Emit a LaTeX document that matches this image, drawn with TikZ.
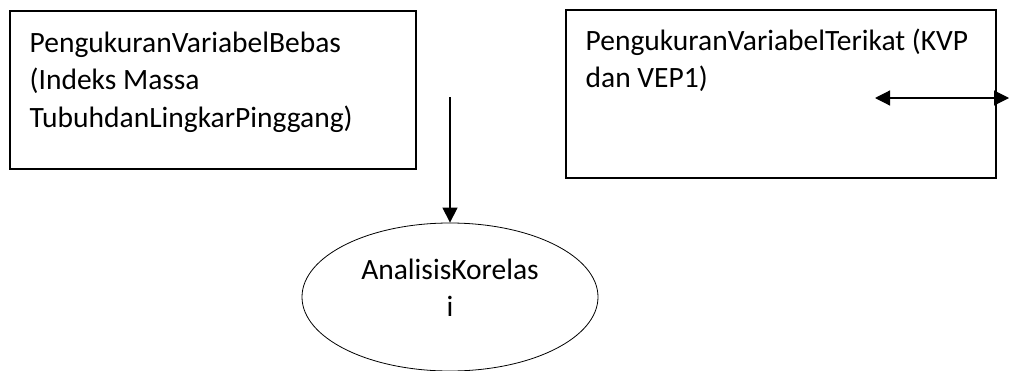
\documentclass[tikz,border=0pt]{standalone}
\usepackage{fontspec}
\setmainfont{Carlito}
\usetikzlibrary{arrows.meta,shapes.geometric}

\tikzset{
	kotak/.style={draw, rectangle, line width=1.6pt, inner sep=0pt},
	isi/.style={anchor=north west, inner sep=0pt, align=left, font=\fontsize{29.5}{37.5}\selectfont},
	bulat/.style={draw, ellipse, line width=0.8pt, inner sep=0pt},
	panah/.style={line width=1.2pt, -{Triangle[length=15pt,width=15pt]}},
	panahdua/.style={line width=1.2pt, {Triangle[length=15pt,width=15pt]}-{Triangle[length=15pt,width=15pt]}}
}

\begin{document}
\begin{tikzpicture}[x=1pt,y=-1pt]
			%%%%% START %%%%%
			\useasboundingbox (0,0) rectangle (1009,370);
			
			\node[kotak, minimum width=406, minimum height=158] (bebas) at (213,90) {};
			\node[isi] (teksbebas) at (29.5,31.5) {PengukuranVariabelBebas\\(Indeks Massa\\TubuhdanLingkarPinggang)};
			
			\node[kotak, minimum width=430, minimum height=168] (terikat) at (781,94) {};
			\node[isi] (teksterikat) at (585.5,28.5) {PengukuranVariabelTerikat (KVP\\dan VEP1)};
			
			\node[bulat, minimum width=296, minimum height=148] (korelasi) at (450,297) {};
			\node[align=center, inner sep=0pt, font=\fontsize{29.5}{37.5}\selectfont] (tekskorelasi) at (450,288) {AnalisisKorelas\\i};
			
			\coordinate (mulai) at (450,97);
			\draw[panah] (mulai) -- (korelasi.north);
			
			\coordinate (kiri) at (875,98);
			\coordinate (kanan) at (1009,98);
			\draw[panahdua] (kiri) -- (kanan);
			
			%%%%% END %%%%%
\end{tikzpicture}
\end{document}
